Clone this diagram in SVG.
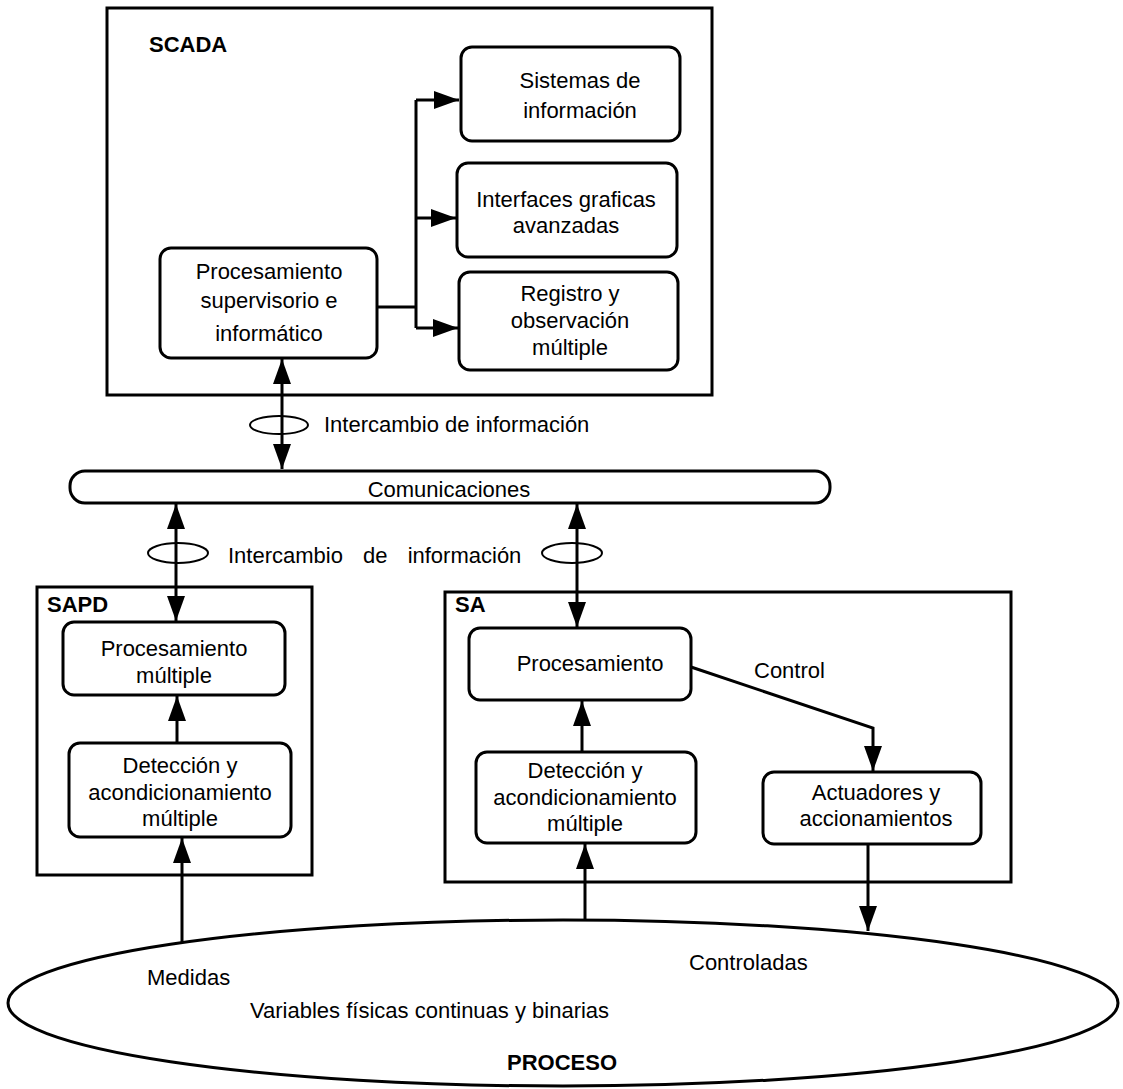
<svg xmlns="http://www.w3.org/2000/svg" width="1123" height="1089" viewBox="0 0 1123 1089">
  <style>
    .frame { fill: none; stroke: #000; stroke-width: 3; }
    .node { fill: #fff; stroke: #000; stroke-width: 3; }
    .wire { fill: none; stroke: #000; stroke-width: 3; }
    .ring { fill: none; stroke: #000; stroke-width: 2; }
    .t { font-family: "Liberation Sans", Arial, sans-serif; font-size: 22px; fill: #000; }
    .c { text-anchor: middle; }
    .b { font-family: "Liberation Sans", Arial, sans-serif; font-size: 22px; font-weight: bold; fill: #000; }
  </style>
  <defs>
    <marker id="ah" viewBox="0 0 25 18" refX="25" refY="9" markerWidth="25" markerHeight="18" markerUnits="userSpaceOnUse" orient="auto-start-reverse">
      <path d="M0 0 L25 9 L0 18 Z" fill="#000"/>
    </marker>
  </defs>
  <rect width="1123" height="1089" fill="#fff"/>

  <!-- subsystem frames -->
  <g id="scada">
    <rect class="frame" x="107" y="8" width="605" height="387"/>
    <text class="b" x="149" y="52">SCADA</text>
  </g>
  <g id="sapd">
    <rect class="frame" x="37" y="587" width="275" height="288"/>
    <text class="b" x="47" y="612">SAPD</text>
  </g>
  <g id="sa">
    <rect class="frame" x="445" y="592" width="566" height="290"/>
    <text class="b" x="455" y="612">SA</text>
  </g>

  <!-- process -->
  <g id="proceso">
    <ellipse class="frame" cx="563" cy="1003" rx="555" ry="83"/>
    <text class="t" x="147" y="985">Medidas</text>
    <text class="t" x="689" y="970">Controladas</text>
    <text class="t" x="250" y="1018">Variables físicas continuas y binarias</text>
    <text class="b" x="507" y="1070">PROCESO</text>
  </g>

  <!-- SCADA blocks -->
  <g id="sistemas">
    <rect class="node" x="461" y="47" width="219" height="94" rx="11"/>
    <text class="t c" x="580" y="88">Sistemas de</text>
    <text class="t c" x="580" y="118">información</text>
  </g>
  <g id="interfaces">
    <rect class="node" x="457" y="163" width="220" height="94" rx="11"/>
    <text class="t c" x="566" y="207">Interfaces graficas</text>
    <text class="t c" x="566" y="233">avanzadas</text>
  </g>
  <g id="registro">
    <rect class="node" x="459" y="272" width="219" height="98" rx="11"/>
    <text class="t c" x="570" y="301">Registro y</text>
    <text class="t c" x="570" y="328">observación</text>
    <text class="t c" x="570" y="355">múltiple</text>
  </g>
  <g id="supervisorio">
    <rect class="node" x="160" y="248" width="217" height="110" rx="11"/>
    <text class="t c" x="269" y="279">Procesamiento</text>
    <text class="t c" x="269" y="308">supervisorio e</text>
    <text class="t c" x="269" y="341">informático</text>
  </g>

  <!-- communications bus -->
  <g id="comunicaciones">
    <rect class="node" x="70" y="471" width="760" height="32" rx="15"/>
    <text class="t c" x="449" y="497">Comunicaciones</text>
  </g>

  <!-- SAPD blocks -->
  <g id="sapd-procesamiento">
    <rect class="node" x="63" y="622" width="222" height="73" rx="11"/>
    <text class="t c" x="174" y="656">Procesamiento</text>
    <text class="t c" x="174" y="683">múltiple</text>
  </g>
  <g id="sapd-deteccion">
    <rect class="node" x="69" y="743" width="222" height="94" rx="11"/>
    <text class="t c" x="180" y="773">Detección y</text>
    <text class="t c" x="180" y="800">acondicionamiento</text>
    <text class="t c" x="180" y="826">múltiple</text>
  </g>

  <!-- SA blocks -->
  <g id="sa-procesamiento">
    <rect class="node" x="469" y="628" width="222" height="72" rx="11"/>
    <text class="t c" x="590" y="671">Procesamiento</text>
  </g>
  <g id="sa-deteccion">
    <rect class="node" x="476" y="752" width="220" height="91" rx="11"/>
    <text class="t c" x="585" y="778">Detección y</text>
    <text class="t c" x="585" y="805">acondicionamiento</text>
    <text class="t c" x="585" y="831">múltiple</text>
  </g>
  <g id="actuadores">
    <rect class="node" x="763" y="772" width="218" height="72" rx="11"/>
    <text class="t c" x="876" y="800">Actuadores y</text>
    <text class="t c" x="876" y="826">accionamientos</text>
  </g>

  <!-- connectors -->
  <g id="connectors">
    <path class="wire" d="M377 307 H416 M416 100 V328"/>
    <path class="wire" d="M416 100 H459" marker-end="url(#ah)"/>
    <path class="wire" d="M416 218 H456" marker-end="url(#ah)"/>
    <path class="wire" d="M416 328 H458" marker-end="url(#ah)"/>

    <path class="wire" d="M282 359 V469" marker-start="url(#ah)" marker-end="url(#ah)"/>
    <ellipse class="ring" cx="279" cy="425" rx="29" ry="9"/>
    <text class="t" x="324" y="432">Intercambio de información</text>

    <path class="wire" d="M176 504 V621" marker-start="url(#ah)" marker-end="url(#ah)"/>
    <ellipse class="ring" cx="178" cy="553" rx="30" ry="10"/>
    <path class="wire" d="M577 504 V627" marker-start="url(#ah)" marker-end="url(#ah)"/>
    <ellipse class="ring" cx="572" cy="553" rx="30" ry="10"/>
    <text class="t" x="228" y="563" word-spacing="14">Intercambio de información</text>

    <path class="wire" d="M177 743 V696" marker-end="url(#ah)"/>
    <path class="wire" d="M182 943 V838" marker-end="url(#ah)"/>

    <path class="wire" d="M582 752 V701" marker-end="url(#ah)"/>
    <path class="wire" d="M585 921 V844" marker-end="url(#ah)"/>

    <path class="wire" d="M691 667 L873 728 V771" marker-end="url(#ah)"/>
    <text class="t" x="754" y="678">Control</text>

    <path class="wire" d="M868 844 V931" marker-end="url(#ah)"/>
  </g>
</svg>
